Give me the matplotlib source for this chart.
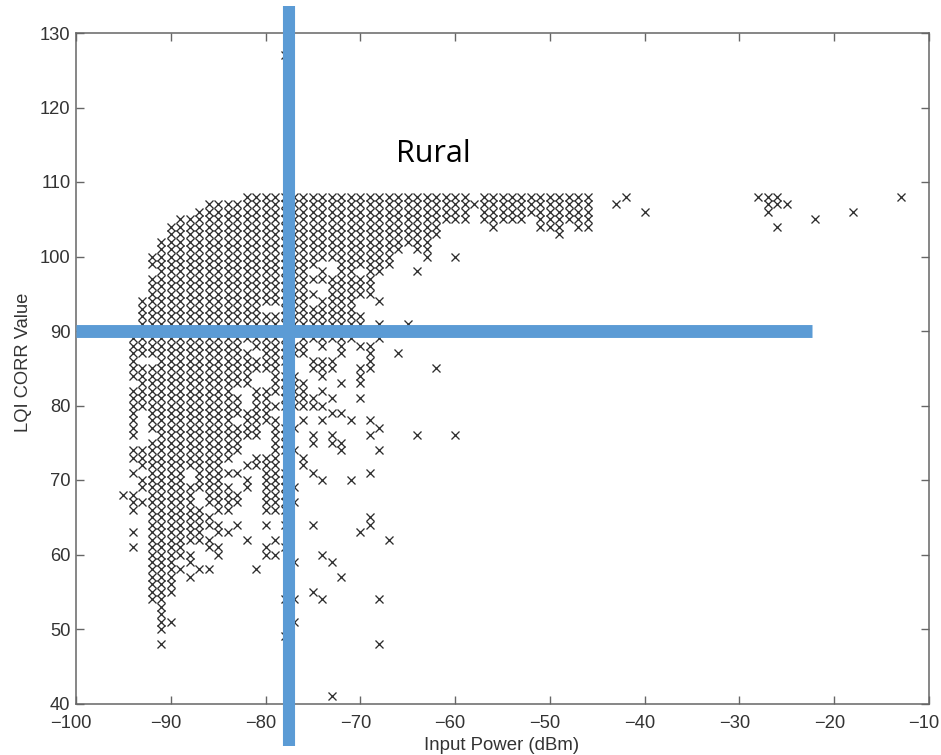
import matplotlib
matplotlib.use('Agg')
import matplotlib.pyplot as plt
from matplotlib.transforms import ScaledTranslation

# Occupied input power spans (dBm) for each LQI value
lqi_values = [108, 107, 106, 105, 104, 103, 102, 101, 100, 99, 98, 97, 96, 95, 94, 93, 92, 91, 90,
              89, 88, 87, 86, 85, 84, 83, 82, 81, 80, 79, 78, 77, 76, 75, 74, 73, 72, 71, 70,
              69, 68, 67, 66, 65, 64, 63, 62, 61, 60, 59, 58, 57, 56, 55, 54, 53, 52, 51, 50, 49, 48, 41]
power_spans = [
    [(-82, -59), (-57, -46)],
    [(-86, -46)],
    [(-87, -59), (-57, -46)],
    [(-89, -59), (-57, -53), (-51, -46)],
    [(-90, -62), (-56, -56), (-51, -49), (-47, -46)],
    [(-90, -62), (-49, -49)],
    [(-91, -63)],
    [(-91, -66), (-64, -63)],
    [(-92, -67), (-63, -63), (-60, -60)],
    [(-92, -75), (-72, -67)],
    [(-91, -76), (-74, -74), (-72, -71), (-69, -68), (-64, -64)],
    [(-92, -69)],
    [(-92, -76), (-73, -69)],
    [(-92, -75), (-73, -69)],
    [(-93, -76), (-74, -71), (-68, -68)],
    [(-93, -81), (-78, -71)],
    [(-93, -70)],
    [(-93, -70), (-68, -68), (-65, -65)],
    [(-93, -69)],
    [(-94, -78), (-76, -71), (-68, -68)],
    [(-94, -83), (-81, -76), (-74, -74), (-72, -72), (-70, -69)],
    [(-94, -82), (-80, -76), (-72, -72), (-69, -69), (-66, -66)],
    [(-94, -94), (-91, -78), (-75, -73), (-69, -69)],
    [(-94, -79), (-75, -73), (-70, -69), (-62, -62)],
    [(-94, -82), (-79, -77), (-74, -74), (-70, -70)],
    [(-93, -82), (-79, -76), (-72, -72), (-70, -70)],
    [(-94, -84), (-81, -76), (-74, -74)],
    [(-94, -83), (-81, -80), (-78, -75), (-73, -73), (-70, -70)],
    [(-94, -83), (-81, -74)],
    [(-94, -94), (-92, -80), (-73, -72)],
    [(-94, -94), (-92, -84), (-82, -79), (-76, -76), (-74, -74), (-71, -71), (-69, -69)],
    [(-94, -94), (-92, -81), (-79, -77), (-68, -68)],
    [(-94, -94), (-91, -81), (-79, -78), (-75, -75), (-73, -73), (-69, -69), (-64, -64), (-60, -60)],
    [(-92, -83), (-79, -78), (-75, -75), (-73, -72)],
    [(-94, -83), (-79, -77), (-72, -72), (-68, -68)],
    [(-94, -84), (-81, -79), (-76, -76)],
    [(-93, -85), (-82, -79), (-76, -76)],
    [(-94, -94), (-92, -89), (-87, -83), (-80, -78), (-75, -75), (-69, -69)],
    [(-93, -89), (-87, -85), (-82, -82), (-80, -78), (-74, -74), (-71, -71)],
    [(-93, -84), (-82, -82), (-80, -78), (-77, -77)],
    [(-95, -94), (-92, -88), (-86, -83), (-80, -78)],
    [(-94, -93), (-92, -88), (-86, -83), (-80, -78), (-77, -77)],
    [(-94, -94), (-92, -87), (-85, -84), (-80, -78)],
    [(-92, -86), (-69, -69)],
    [(-92, -85), (-83, -83), (-80, -80), (-78, -78), (-75, -75), (-69, -69)],
    [(-94, -94), (-92, -87), (-85, -84), (-70, -70)],
    [(-92, -86), (-82, -82), (-79, -79), (-67, -67)],
    [(-94, -94), (-92, -89), (-86, -85), (-80, -80), (-78, -78)],
    [(-92, -88), (-85, -85), (-80, -79), (-74, -74)],
    [(-92, -90), (-88, -88), (-77, -77), (-73, -73)],
    [(-92, -89), (-87, -86), (-81, -81)],
    [(-92, -90), (-88, -88), (-72, -72)],
    [(-92, -90)],
    [(-92, -90), (-75, -75)],
    [(-92, -91), (-78, -77), (-74, -74), (-68, -68)],
    [(-91, -91)],
    [(-91, -91)],
    [(-91, -90), (-77, -77)],
    [(-91, -91)],
    [(-78, -78)],
    [(-91, -91), (-68, -68)],
    [(-73, -73)],
]

# Isolated points away from the main cloud
extra_power = [-78, -43, -42, -40, -28, -27, -27, -27, -26, -26, -26, -25, -22, -18, -13]
extra_lqi = [127, 107, 108, 106, 108, 108, 107, 106, 108, 107, 104, 107, 105, 106, 108]

x_ticks = list(range(-100, 0, 10))
y_ticks = list(range(40, 140, 10))
threshold_power = -77.5
threshold_lqi = 90

power = []
lqi = []
for value, spans in zip(lqi_values, power_spans):
    for start, end in spans:
        for p in range(start, end + 1):
            power.append(p)
            lqi.append(value)
power += extra_power
lqi += extra_lqi

plt.rcParams['font.family'] = ['Liberation Sans', 'DejaVu Sans']

fig = plt.figure(figsize=(9.41, 7.55), dpi=100)
ax = fig.add_axes([76 / 941, 1 - 703.5 / 755, (929 - 76) / 941, (703.5 - 33) / 755])

ax.plot(power, lqi, linestyle='none', marker='x', markersize=6.4,
        markeredgewidth=0.95, color='#2e2e2e', clip_on=False, zorder=2)

ax.set_xlim(-100, -10)
ax.set_ylim(40, 130)
ax.set_xticks(x_ticks)
ax.set_yticks(y_ticks)
ax.set_xticklabels(['\u2212' + str(abs(t)) for t in x_ticks])
ax.tick_params(direction='in', length=6, width=1, color='#666666', labelcolor='#333333',
               labelsize=13.2, top=True, right=True)
ax.tick_params(axis='x', pad=8)
ax.tick_params(axis='y', pad=4)
for spine in ax.spines.values():
    spine.set_color('#666666')
    spine.set_linewidth(1.1)

# x tick labels sit a little left of their ticks in the original
nudge = ScaledTranslation(-5 / 100, 0, fig.dpi_scale_trans)
for label in ax.get_xticklabels():
    label.set_transform(label.get_transform() + nudge)

ax.set_xlabel('Input Power (dBm)', fontsize=13.4, color='#333333')
ax.xaxis.set_label_coords((502 - 76) / (929 - 76), -(745 - 703.5) / (703.5 - 33), transform=ax.transAxes)
ax.xaxis.label.set_va('center')
ax.xaxis.label.set_ha('center')
ax.set_ylabel('LQI CORR Value', fontsize=13.2, color='#333333')
ax.yaxis.set_label_coords(-(76 - 24) / (929 - 76), (703.5 - 362) / (703.5 - 33), transform=ax.transAxes)
ax.yaxis.label.set_va('center')

# Threshold lines run past the frame on purpose
ax.plot([-100, -22.3], [threshold_lqi, threshold_lqi], color='#5b9bd5', linewidth=9.3,
        solid_capstyle='butt', clip_on=False, zorder=3)
ax.plot([threshold_power, threshold_power], [34.3, 133.6], color='#5b9bd5', linewidth=8.7,
        solid_capstyle='butt', clip_on=False, zorder=3)

ax.text(-66.2, 113.7, 'Rural', fontsize=22, family=['Open Sans', 'DejaVu Sans'],
        color='black', ha='left', va='center')

fig.savefig('out.png', dpi=100)
